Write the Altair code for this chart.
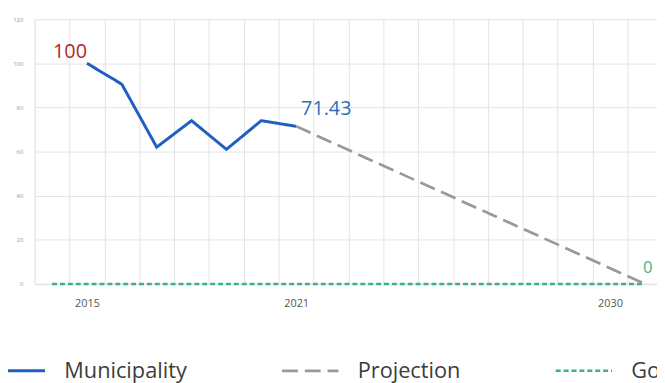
import altair as alt
import pandas as pd

# ---- data ----
muni_years = [2015, 2016, 2017, 2018, 2019, 2020, 2021]
muni_values = [100, 90.5, 62, 74, 61, 74, 71.43]

proj_years = [2021, 2031]
proj_values = [71.43, 0]

goal_years = [2014, 2031]
goal_values = [0, 0]

series_names = ["Municipality", "Projection", "Goal"]
series_colors = ["#1f5fc4", "#999999", "#3cb37a"]
series_dash = [[1, 0], [16, 7], [5, 3]]
series_width = [3, 2.5, 1.5]

label_years = [2015, 2021, 2031]
label_values = [100, 71.43, 0]
label_texts = ["100", "71.43", "0"]
label_colors = ["#b0282c", "#2f6eb5", "#3fb48c"]

x_tick_labels = [2015, 2021, 2030]
y_ticks = [0, 20, 40, 60, 80, 100, 120]

# ---- tables ----
rows = []
for y, v in zip(muni_years, muni_values):
    rows.append({"year": y, "value": v, "series": "Municipality"})
for y, v in zip(proj_years, proj_values):
    rows.append({"year": y, "value": v, "series": "Projection"})
for y, v in zip(goal_years, goal_values):
    rows.append({"year": y, "value": v, "series": "Goal"})
lines_df = pd.DataFrame(rows)

labels_df = pd.DataFrame({
    "year": label_years, "value": label_values,
    "text": label_texts, "color": label_colors,
})

grid_positions = [y + 0.5 for y in range(2014, 2031)]
x_values = sorted(grid_positions + x_tick_labels)

x_scale = alt.Scale(domain=[2013.5, 2031.35], nice=False, zero=False)
y_scale = alt.Scale(domain=[0, 120], nice=False)

x_axis = alt.Axis(
    values=x_values, tickCount=200, tickMinStep=0.1,
    format="d",
    labelExpr="datum.value % 1 === 0 ? datum.label : ''",
    gridOpacity={"condition": {"test": "datum.value % 1 !== 0", "value": 1}, "value": 0},
    grid=True, gridColor="#e4e4e4", gridWidth=1,
    ticks=False, domain=True, domainColor="#dddddd",
    labelFont="Open Sans", labelFontSize=11, labelColor="#555555",
    labelPadding=14, labelOverlap=False, labelFlush=False, title=None,
)
y_axis = alt.Axis(
    values=y_ticks, format="d", grid=True, gridColor="#e4e4e4", ticks=False,
    domain=True, domainColor="#dddddd",
    labelFont="Open Sans", labelFontSize=6, labelColor="#999999",
    labelPadding=12, title=None,
)

legend = alt.Legend(
    title=None, orient="none", direction="horizontal",
    legendX=-48, legendY=326,
    symbolType="stroke", symbolSize=3249, symbolStrokeWidth=2.5,
    labelFont="Open Sans", labelFontSize=22, labelColor="#3c3c3c",
    labelOffset=18, columnPadding=90, labelLimit=300,
)

lines = alt.Chart(lines_df).mark_line().encode(
    x=alt.X("year:Q", scale=x_scale, axis=x_axis),
    y=alt.Y("value:Q", scale=y_scale, axis=y_axis),
    color=alt.Color("series:N", scale=alt.Scale(domain=series_names, range=series_colors), legend=legend),
    strokeDash=alt.StrokeDash("series:N", scale=alt.Scale(domain=series_names, range=series_dash), legend=legend),
    strokeWidth=alt.StrokeWidth("series:N", scale=alt.Scale(domain=series_names, range=series_width), legend=None),
    detail="series:N",
)

def label_layer(idx, align, dx, dy, size):
    return alt.Chart(labels_df.iloc[[idx]]).mark_text(
        align=align, dx=dx, dy=dy, fontSize=size, font="Open Sans", baseline="alphabetic"
    ).encode(
        x=alt.X("year:Q", scale=x_scale),
        y=alt.Y("value:Q", scale=y_scale),
        text="text:N",
        color=alt.Color("color:N", scale=None),
    )

t100 = label_layer(0, "right", 0, -5, 20)
t71 = label_layer(1, "left", 5, -11, 20)
t0 = label_layer(2, "center", 3, -11, 17)

chart = alt.layer(lines, t100, t71, t0).properties(
    width=630, height=268,
    padding={"left": 27, "top": 9, "right": 0, "bottom": 98},
    autosize=alt.AutoSizeParams(type="none"),
).configure_view(stroke=None)

chart.save("out.html", embed_options={"renderer": "svg", "actions": False})
